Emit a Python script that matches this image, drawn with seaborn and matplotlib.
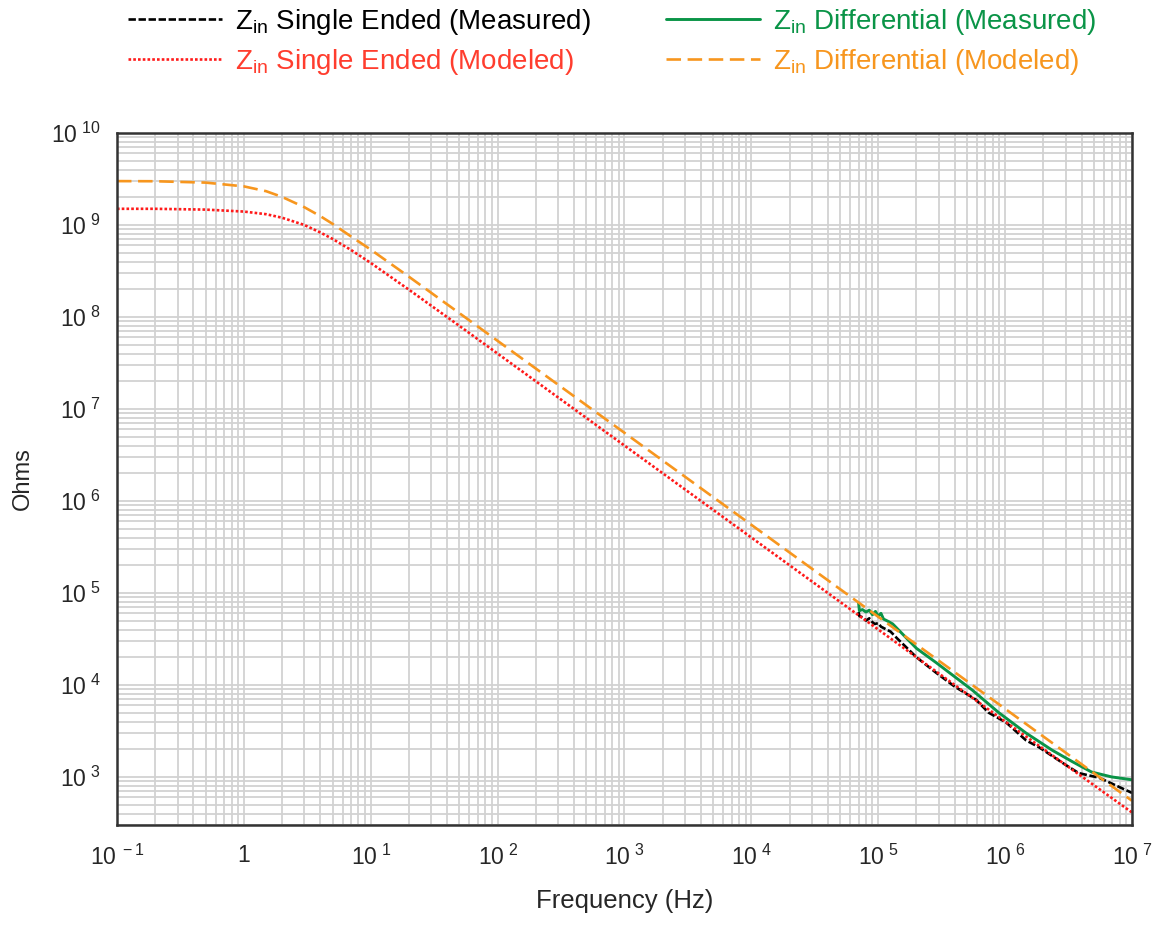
import numpy as np
import pandas as pd
import matplotlib
matplotlib.use("Agg")
import matplotlib.pyplot as plt
import matplotlib.ticker as mticker
import seaborn as sns

# ---- data (frequency in Hz, impedance in ohms) ----
f_model = [0.1, 0.2, 0.5, 1, 1.5, 2, 3, 4, 5, 7, 10, 20, 50, 100, 1e3, 1e4, 1e5, 1e6, 1e7]
z_se_model = [1.5e9, 1.5e9, 1.47e9, 1.4e9, 1.31e9, 1.2e9, 1.0e9, 8.3e8, 7.06e8, 5.35e8,
              3.87e8, 1.98e8, 8.0e7, 4.0e7, 4.0e6, 4.0e5, 4.0e4, 4.0e3, 4.1e2]
z_diff_model = [3.0e9, 2.99e9, 2.89e9, 2.63e9, 2.33e9, 2.02e9, 1.56e9, 1.25e9, 1.03e9, 7.5e8,
                5.4e8, 2.74e8, 1.1e8, 5.5e7, 5.5e6, 5.5e5, 5.5e4, 5.5e3, 5.5e2]

f_se_meas = [7.0e4, 7.1e4, 7.6e4, 8.0e4, 8.5e4, 9.0e4, 9.4e4, 1.0e5, 1.05e5, 1.16e5, 1.25e5,
             1.41e5, 2.0e5, 2.87e5, 4.0e5, 5.9e5, 7.4e5, 1.02e6, 1.46e6, 1.85e6, 3.0e6,
             3.8e6, 5.5e6, 1.0e7]
z_se_meas = [6.2e4, 5.6e4, 5.4e4, 5.0e4, 5.3e4, 4.8e4, 4.6e4, 4.7e4, 4.3e4, 4.0e4, 3.8e4,
             3.2e4, 2.0e4, 1.35e4, 9.6e3, 6.9e3, 5.0e3, 3.9e3, 2.5e3, 2.1e3, 1.35e3,
             1.1e3, 9.8e2, 6.7e2]

f_diff_meas = [7.0e4, 7.1e4, 7.5e4, 8.0e4, 8.5e4, 9.0e4, 9.5e4, 1.0e5, 1.05e5, 1.1e5, 1.2e5,
               1.3e5, 1.41e5, 2.0e5, 2.87e5, 5.5e5, 8.9e5, 1.46e6, 2.35e6, 3.4e6, 4.8e6,
               6.9e6, 1.0e7]
z_diff_meas = [7.8e4, 6.4e4, 6.6e4, 6.2e4, 6.5e4, 5.8e4, 6.3e4, 5.6e4, 6.0e4, 5.2e4, 4.9e4,
               4.6e4, 4.1e4, 2.5e4, 1.74e4, 8.8e3, 5.0e3, 3.0e3, 1.95e3, 1.46e3, 1.13e3,
               1.0e3, 9.3e2]

labels = [r"Z$_{\mathrm{in}}$ Single Ended (Measured)",
          r"Z$_{\mathrm{in}}$ Single Ended (Modeled)",
          r"Z$_{\mathrm{in}}$ Differential (Measured)",
          r"Z$_{\mathrm{in}}$ Differential (Modeled)"]
line_colors = ["#000000", "#ff1a1a", "#0a9447", "#f7961e"]
text_colors = ["#000000", "#ff3d2e", "#0a9447", "#f7961e"]

x_ticks = [1e-1, 1, 1e1, 1e2, 1e3, 1e4, 1e5, 1e6, 1e7]
x_ticklabels = [r"10$^{\ -1}$", "1", r"10$^{\ 1}$", r"10$^{\ 2}$", r"10$^{\ 3}$",
                r"10$^{\ 4}$", r"10$^{\ 5}$", r"10$^{\ 6}$", r"10$^{\ 7}$"]
y_ticks = [1e3, 1e4, 1e5, 1e6, 1e7, 1e8, 1e9, 1e10]
y_ticklabels = [r"10$^{\ %d}$" % k for k in range(3, 11)]

sns.set_style("white")
font = ["Liberation Sans", "DejaVu Sans"]
plt.rcParams["font.family"] = font
plt.rcParams["mathtext.fontset"] = "custom"
plt.rcParams["mathtext.rm"] = "Liberation Sans"
plt.rcParams["mathtext.it"] = "Liberation Sans"
plt.rcParams["mathtext.bf"] = "Liberation Sans"

fig = plt.figure(figsize=(11.65, 9.25), dpi=100)
ax = fig.add_axes([0.1004, 0.1081, 0.8713, 0.7481])
ax.set_xscale("log")
ax.set_yscale("log")

sns.lineplot(x=f_se_meas, y=z_se_meas, ax=ax, color=line_colors[0], lw=1.9,
             linestyle=(0, (2.8, 1.0)), label=labels[0], estimator=None, sort=False)
sns.lineplot(x=f_model, y=z_se_model, ax=ax, color=line_colors[1], lw=1.9,
             linestyle=(0, (1.0, 0.8)), label=labels[1], estimator=None, sort=False)
sns.lineplot(x=f_diff_meas, y=z_diff_meas, ax=ax, color=line_colors[2], lw=2.1,
             linestyle="-", label=labels[2], estimator=None, sort=False)
sns.lineplot(x=f_model, y=z_diff_model, ax=ax, color=line_colors[3], lw=1.9,
             linestyle=(0, (5.5, 2.5)), label=labels[3], estimator=None, sort=False)

ax.set_xlim(0.1, 1e7)
ax.set_ylim(300, 1e10)

# grid: every minor decade step
ax.xaxis.set_minor_locator(mticker.LogLocator(base=10, subs=np.arange(1, 10), numticks=100))
ax.yaxis.set_minor_locator(mticker.LogLocator(base=10, subs=np.arange(1, 10), numticks=100))
ax.xaxis.set_minor_formatter(mticker.NullFormatter())
ax.yaxis.set_minor_formatter(mticker.NullFormatter())
ax.grid(True, which="both", color="#d2d2d2", lw=1.3)
ax.set_axisbelow(True)

ax.set_xticks(x_ticks)
ax.set_xticklabels(x_ticklabels)
ax.set_yticks(y_ticks)
ax.set_yticklabels(y_ticklabels)
ax.tick_params(which="major", direction="out", length=9, width=1.5, color="#333333",
               labelsize=16.5, top=False, right=False)
ax.tick_params(axis="y", pad=3)
ax.tick_params(axis="x", pad=5)
ax.tick_params(which="minor", length=0)

for spine in ax.spines.values():
    spine.set_visible(True)
    spine.set_edgecolor("#333333")
    spine.set_linewidth(1.8)

ax.set_xlabel("Frequency (Hz)", fontsize=18.5, labelpad=14)
ax.set_ylabel("Ohms", fontsize=17, labelpad=12)

# legend above plot, coloured text, filled column-wise
leg = ax.legend(ncol=2, loc="upper left", bbox_to_anchor=(128 / 1165, 1 - 7 / 925),
                bbox_transform=fig.transFigure, frameon=False, fontsize=20,
                handlelength=3.4, handletextpad=0.45, columnspacing=2.7,
                labelspacing=0.35, borderpad=0, borderaxespad=0)
for txt, c in zip(leg.get_texts(), text_colors):
    txt.set_color(c)

fig.savefig("out.png", dpi=100)
